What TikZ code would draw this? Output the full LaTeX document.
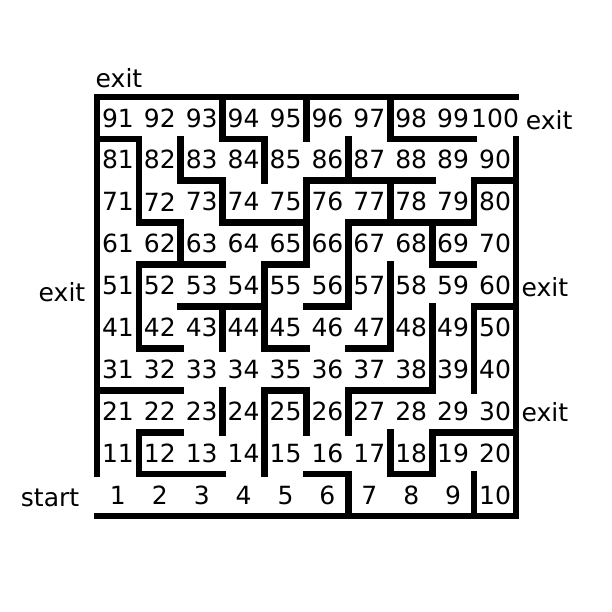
\documentclass[tikz,border=0pt]{standalone}
\usepackage{fontspec}
\setmainfont{DejaVu Sans}
\tikzset{%
  wall/.style={line width=4.6pt,line cap=rect,line join=miter},
  num/.style={font=\fontsize{17}{20}\selectfont,inner sep=0},
  tag/.style={font=\fontsize{17}{20}\selectfont,inner sep=0}
}

\begin{document}
\begin{tikzpicture}
  \useasboundingbox (-2.315,-2.291) rectangle (12.291,12.315);
  % frame
  \draw[wall] (0,1) -- (0,10) -- (10,10);
  \draw[wall] (10,9) -- (10,0) -- (0,0);
  % walls, top rows
  \draw[wall] (3,10) -- (3,9) -- (4,9) -- (4,8);
  \draw[wall] (5,10) -- (5,9);
  \draw[wall] (7,10) -- (7,9) -- (9,9);
  \draw[wall] (0,9) -- (1,9) -- (1,7) -- (2,7) -- (2,6);
  \draw[wall] (2,9) -- (2,8) -- (3,8) -- (3,7) -- (5,7);
  \draw[wall] (6,9) -- (6,8);
  \draw[wall] (8,8) -- (5,8) -- (5,6) -- (4,6) -- (4,4) -- (5,4);
  \draw[wall] (7,8) -- (7,7);
  \draw[wall] (10,8) -- (9,8) -- (9,7) -- (6,7) -- (6,5) -- (5,5);
  \draw[wall] (8,7) -- (8,6) -- (9,6);
  % middle
  \draw[wall] (3,6) -- (1,6) -- (1,4) -- (2,4);
  \draw[wall] (2,5) -- (4,5);
  \draw[wall] (3,5) -- (3,4);
  \draw[wall] (7,6) -- (7,4) -- (6,4);
  \draw[wall] (8,5) -- (8,3) -- (6,3) -- (6,2);
  \draw[wall] (10,5) -- (9,5) -- (9,3);
  % bottom rows
  \draw[wall] (0,3) -- (2,3);
  \draw[wall] (3,3) -- (3,2);
  \draw[wall] (2,2) -- (1,2) -- (1,1) -- (3,1);
  \draw[wall] (4,1) -- (4,3) -- (5,3) -- (5,2);
  \draw[wall] (5,1) -- (6,1) -- (6,0);
  \draw[wall] (7,2) -- (7,1) -- (8,1) -- (8,2) -- (10,2);
  \draw[wall] (9,1) -- (9,0);
  % cell numbers
  \foreach \k in {1,...,100}{
    \pgfmathtruncatemacro\row{(\k-1)/10}
    \pgfmathtruncatemacro\col{\k-1-10*\row}
    \node[num] (n\k) at (\col+0.5,\row+0.5) {\k};
  }
  % labels
  \node[tag] (exittop) at (0.525,10.45) {exit};
  \node[tag] (exitnw) at (10.79,9.45) {exit};
  \node[tag] (exitw) at (-0.835,5.35) {exit};
  \node[tag] (exite) at (10.69,5.47) {exit};
  \node[tag] (exitse) at (10.69,2.48) {exit};
  \node[tag] (start) at (-1.12,0.43) {start};
\end{tikzpicture}
\end{document}
